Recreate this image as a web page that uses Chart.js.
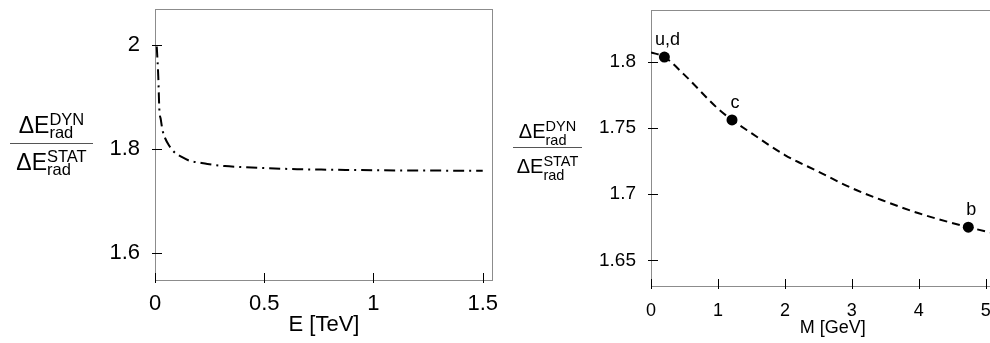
<!DOCTYPE html>
<html>
<head>
<meta charset="utf-8">
<script src="https://cdn.jsdelivr.net/npm/chart.js@4"></script>
<style>
    html, body { margin: 0; padding: 0; background: #fff; overflow: hidden; }
    body { width: 990px; height: 343px; position: relative; font-family: "Liberation Sans", Arial, sans-serif; color: #000; }
    .box { position: absolute; top: 0; height: 343px; }
    #leftBox { left: 0; width: 500px; }
    #rightBox { left: 495px; width: 525px; }
    .frac { position: absolute; top: 0; }
    .frac .row { position: absolute; left: 0; right: 0; text-align: center; white-space: nowrap; }
    .frac .bar { position: absolute; left: 0; right: 0; border-top: 1px solid #555; }
    .ss { display: inline-flex; flex-direction: column; align-items: flex-start; position: relative; vertical-align: baseline; line-height: 13.3px; }
    #fracLeft { left: 10px; width: 83px; font-size: 23px; }
    #fracLeft .row { line-height: 30px; }
    #fracLeft .ss { font-size: 16.5px; top: -8.3px; }
    #fracRight { left: 513px; width: 69px; font-size: 20px; }
    #fracRight .row { line-height: 26px; }
    #fracRight .ss { font-size: 14.5px; top: -6.7px; }
</style>
</head>
<body>
<div class="box" id="leftBox"><canvas id="energyChart"></canvas></div>
<div class="box" id="rightBox"><canvas id="massChart"></canvas></div>

<div class="frac" id="fracLeft">
    <div class="row" style="top: 110px">ΔE<span class="ss"><span>DYN</span><span>rad</span></span></div>
    <div class="bar" style="top: 143px"></div>
    <div class="row" style="top: 147px">ΔE<span class="ss"><span>STAT</span><span>rad</span></span></div>
</div>
<div class="frac" id="fracRight">
    <div class="row" style="top: 118px">ΔE<span class="ss"><span>DYN</span><span>rad</span></span></div>
    <div class="bar" style="top: 147px"></div>
    <div class="row" style="top: 153px">ΔE<span class="ss"><span>STAT</span><span>rad</span></span></div>
</div>

<script>
// Left panel: ratio vs jet energy
const energyTeV = [0.008, 0.015, 0.02, 0.026, 0.035, 0.046, 0.065, 0.09, 0.12, 0.16, 0.2, 0.24, 0.32, 0.4, 0.51, 0.65, 0.82, 1.0, 1.2, 1.5];
const ratioVsEnergy = [1.997, 1.939, 1.875, 1.858, 1.835, 1.821, 1.806, 1.793, 1.785, 1.777, 1.774, 1.771, 1.767, 1.765, 1.763, 1.761, 1.760, 1.759, 1.7585, 1.758];
const energyTicks = [0, 0.5, 1, 1.5];
const ratioTicksLeft = [1.6, 1.8, 2];

// Right panel: ratio vs quark mass
const massGeV = [0, 0.2, 0.5, 1.0, 1.21, 1.5, 2.0, 2.5, 3.0, 3.5, 4.0, 4.74, 5.43];
const ratioVsMass = [1.807, 1.8035, 1.790, 1.7645, 1.756, 1.746, 1.7295, 1.717, 1.7045, 1.6945, 1.6855, 1.675, 1.667];
const quarkLabels = ['u,d', 'c', 'b'];
const quarkMass = [0.2, 1.21, 4.74];
const quarkRatio = [1.8035, 1.756, 1.675];
const massTicks = [0, 1, 2, 3, 4, 5];
const ratioTicksRight = [1.65, 1.7, 1.75, 1.8];

const FONT = '"Liberation Sans", Arial, sans-serif';

// Frame around the plot area plus tick marks that cross the axes
const frameTicks = {
    id: 'frameTicks',
    beforeDatasetsDraw(chart) {
        const { ctx, chartArea: a, scales } = chart;
        ctx.save();
        ctx.strokeStyle = '#8c8c8c';
        ctx.lineWidth = 1;
        ctx.strokeRect(a.left + 0.5, a.top + 0.5, a.right - a.left - 1, a.bottom - a.top);
        ctx.strokeStyle = '#000';
        ctx.beginPath();
        scales.x.ticks.forEach(t => {
            const x = Math.round(scales.x.getPixelForValue(t.value)) + 0.5;
            ctx.moveTo(x, a.bottom + 3);
            ctx.lineTo(x, a.bottom - 7);
        });
        scales.y.ticks.forEach(t => {
            const y = Math.round(scales.y.getPixelForValue(t.value)) + 0.5;
            ctx.moveTo(a.left - 3, y);
            ctx.lineTo(a.left + 7, y);
        });
        ctx.stroke();
        ctx.restore();
    }
};

// Quark names above the points
const pointNames = {
    id: 'pointNames',
    afterDatasetsDraw(chart) {
        const meta = chart.getDatasetMeta(1);
        const { ctx } = chart;
        ctx.save();
        ctx.fillStyle = '#000';
        ctx.font = '18px ' + FONT;
        ctx.textAlign = 'center';
        ctx.textBaseline = 'alphabetic';
        meta.data.forEach((pt, i) => {
            ctx.fillText(quarkLabels[i], pt.x + 3, pt.y - 12);
        });
        ctx.restore();
    }
};

function fixedTicks(values) {
    return scale => { scale.ticks = values.map(v => ({ value: v })); };
}

// pin the axis size and drop the label overflow padding Chart.js adds
function pinWidth(w) {
    return s => { s.width = w; s.paddingTop = 0; s.paddingBottom = 0; };
}
function pinHeight(h) {
    return s => { s.height = h; s.paddingLeft = 0; s.paddingRight = 0; };
}

function toPoints(xs, ys) {
    return xs.map((x, i) => ({ x: x, y: ys[i] }));
}

function initEnergyChart() {
    const ctx = document.getElementById('energyChart');
    new Chart(ctx.getContext('2d'), {
        type: 'line',
        data: {
            datasets: [{
                data: toPoints(energyTeV, ratioVsEnergy),
                borderColor: '#000',
                borderWidth: 2,
                borderDash: [11, 5, 2, 5],
                cubicInterpolationMode: 'monotone',
                pointRadius: 0,
                fill: false
            }]
        },
        options: {
            responsive: true,
            maintainAspectRatio: false,
            animation: false,
            layout: { padding: { top: 9, right: 7, left: 0, bottom: 0 } },
            plugins: { legend: { display: false }, tooltip: { enabled: false } },
            scales: {
                x: {
                    type: 'linear',
                    min: 0,
                    max: 1.547,
                    afterBuildTicks: fixedTicks(energyTicks),
                    afterFit: pinHeight(63),
                    grid: { display: false, drawTicks: false },
                    border: { display: false },
                    ticks: { color: '#000', font: { family: FONT, size: 22 }, padding: 11, maxRotation: 0, callback: v => String(v) },
                    title: { display: true, text: 'E [TeV]', color: '#000', font: { family: FONT, size: 22 }, padding: { top: 0, bottom: 5 } }
                },
                y: {
                    min: 1.548,
                    max: 2.069,
                    afterBuildTicks: fixedTicks(ratioTicksLeft),
                    afterFit: pinWidth(155),
                    grid: { display: false, drawTicks: false },
                    border: { display: false },
                    ticks: { color: '#000', font: { family: FONT, size: 22 }, padding: 15, callback: v => String(v) }
                }
            }
        },
        plugins: [frameTicks]
    });
}

function initMassChart() {
    const ctx = document.getElementById('massChart');
    new Chart(ctx.getContext('2d'), {
        type: 'line',
        data: {
            datasets: [{
                data: toPoints(massGeV, ratioVsMass),
                borderColor: '#000',
                borderWidth: 2,
                borderDash: [8, 5],
                cubicInterpolationMode: 'monotone',
                pointRadius: 0,
                fill: false
            }, {
                data: toPoints(quarkMass, quarkRatio),
                showLine: false,
                pointRadius: 5.5,
                pointBackgroundColor: '#000',
                pointBorderColor: '#000',
                pointBorderWidth: 0
            }]
        },
        options: {
            responsive: true,
            maintainAspectRatio: false,
            animation: false,
            layout: { padding: { top: 10, right: 0, left: 0, bottom: 0 } },
            plugins: { legend: { display: false }, tooltip: { enabled: false } },
            scales: {
                x: {
                    type: 'linear',
                    min: 0,
                    max: 5.43,
                    afterBuildTicks: fixedTicks(massTicks),
                    afterFit: pinHeight(57),
                    grid: { display: false, drawTicks: false },
                    border: { display: false },
                    ticks: { color: '#000', font: { family: FONT, size: 18 }, padding: 14, maxRotation: 0, callback: v => String(v) },
                    title: { display: true, text: 'M [GeV]', color: '#000', font: { family: FONT, size: 18 }, padding: { top: 0, bottom: 4 } }
                },
                y: {
                    min: 1.6306,
                    max: 1.839,
                    afterBuildTicks: fixedTicks(ratioTicksRight),
                    afterFit: pinWidth(156),
                    grid: { display: false, drawTicks: false },
                    border: { display: false },
                    ticks: { color: '#000', font: { family: FONT, size: 19 }, padding: 15, callback: v => String(v) }
                }
            }
        },
        plugins: [frameTicks, pointNames]
    });
}

document.addEventListener('DOMContentLoaded', () => {
    initEnergyChart();
    initMassChart();
});
</script>
</body>
</html>
